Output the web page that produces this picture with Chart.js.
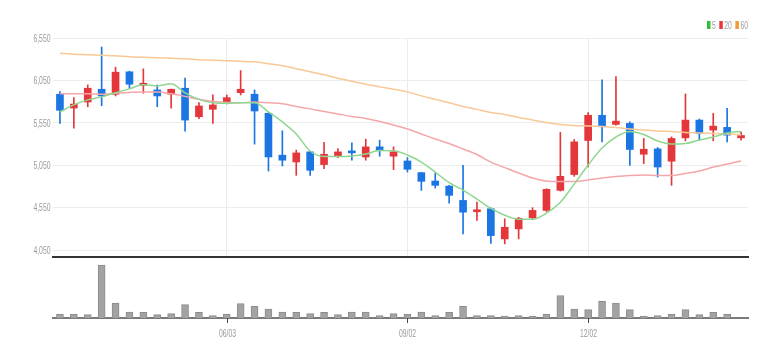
<!DOCTYPE html>
<html>
<head>
<meta charset="utf-8">
<script src="https://cdn.jsdelivr.net/npm/chart.js@4.4.1/dist/chart.umd.min.js"></script>
<style>
  html, body { margin: 0; padding: 0; background: #ffffff; }
  #wrap { position: relative; width: 782px; height: 358px; overflow: hidden; background: #fff; }
  #price { position: absolute; left: 0; top: 0; }
  #vol { position: absolute; left: 0; top: 258px; }
</style>
</head>
<body>
<div id="wrap">
  <canvas id="price" width="782" height="262"></canvas>
  <canvas id="vol" width="782" height="100"></canvas>
</div>
<script>
// ---- data (weekly candles) ----
const categories = ['03/11','03/18','03/25','04/01','04/08','04/15','04/22','04/29','05/06','05/13',
  '05/20','05/27','06/03','06/10','06/17','06/24','07/01','07/08','07/15','07/22',
  '07/29','08/05','08/12','08/19','08/26','09/02','09/09','09/16','09/23','09/30',
  '10/07','10/14','10/21','10/28','11/04','11/11','11/18','11/25','12/02','12/09',
  '12/16','12/23','12/30','01/06','01/13','01/20','01/27','02/03','02/10','02/17'];

const openP  = [5888,5726,5797,5947,5888,6152,5994,5939,5888,5959,
  5623,5711,5782,5907,5888,5664,5171,5091,5210,5061,
  5159,5221,5150,5269,5159,5103,4966,4867,4808,4639,
  4505,4541,4186,4304,4434,4521,4757,4943,5344,5640,
  5533,5545,5182,5245,5100,5375,5584,5466,5498,5375];
const highP  = [5919,5850,5998,6444,6207,6160,6187,5998,5950,6077,
  5789,5880,5880,6167,5939,5670,5458,5230,5215,5321,
  5250,5316,5360,5348,5269,5143,4970,4961,4816,5052,
  4619,4553,4422,4440,4553,4777,5439,5356,5671,6057,
  6096,5564,5368,5262,5387,5892,5596,5663,5723,5442];
const lowP   = [5545,5490,5741,5753,5868,5959,5900,5741,5723,5454,
  5600,5545,5773,5880,5301,4985,5044,4934,4934,5013,
  5143,5112,5112,5159,5001,4973,4757,4784,4607,4245,
  4402,4134,4127,4186,4411,4509,4749,4922,5032,5328,
  5525,5052,5072,4914,4816,5340,5348,5340,5328,5348];
const closeP = [5699,5773,5959,5868,6148,6006,6018,5868,5947,5584,
  5750,5762,5848,5947,5691,5150,5112,5198,4993,5182,
  5210,5198,5269,5230,5210,5005,4863,4816,4698,4500,
  4529,4225,4323,4429,4521,4769,4922,5328,5640,5505,
  5572,5238,5241,5032,5368,5584,5427,5513,5407,5403];

const ma5  = [5680,5763,5822,5857,5905,5952,5999,5987,6011,5905,
  5828,5787,5781,5787,5787,5680,5562,5421,5220,5155,
  5155,5161,5185,5226,5224,5173,5090,4972,4848,4760,
  4654,4544,4465,4418,4418,4489,4618,4831,5055,5256,
  5385,5450,5415,5338,5303,5309,5350,5385,5433,5450];
const ma20 = [5893,5893,5893,5887,5899,5910,5916,5916,5893,5863,
  5828,5804,5792,5787,5798,5787,5775,5745,5716,5686,
  5657,5627,5604,5568,5527,5480,5421,5362,5309,5244,
  5179,5090,5025,4961,4902,4866,4860,4860,4878,4902,
  4919,4931,4937,4931,4931,4955,4984,5031,5067,5102];
const ma60 = [6371,6359,6353,6347,6341,6329,6323,6318,6312,6306,
  6294,6288,6282,6276,6270,6247,6223,6188,6152,6117,
  6076,6040,6005,5975,5946,5916,5869,5828,5787,5745,
  5710,5674,5651,5615,5586,5556,5533,5521,5515,5509,
  5497,5480,5468,5456,5450,5438,5433,5427,5421,5409];

// volume (thousand shares)
const volume = [100,100,85,1325,375,150,140,85,110,335,
  140,60,100,360,290,225,150,140,110,140,
  85,150,150,60,110,100,150,60,140,290,
  60,60,45,60,45,100,560,225,210,415,
  375,210,45,60,100,210,85,140,100,0];

const priceTicks = [4050,4550,5050,5550,6050,6550];
const dateTicks = ['06/03','09/02','12/02'];
const maLabels = ['5','20','60'];

// ---- styles ----
const UP = '#e4373c', DOWN = '#1b76e4';
const maLineColors = ['#8fd78f','#f5a6aa','#f8c897'];
const maLegendColors = ['#2fbf3a','#e8383d','#f39a35'];
const labelFont = '11px "Liberation Sans", Arial, sans-serif';
const SQUASH = 0.62;

const candleColors = openP.map((o,i) => closeP[i] >= o ? UP : DOWN);

function squashText(ctx, text, x, y, align) {
  ctx.save();
  ctx.translate(x, y);
  ctx.scale(SQUASH, 1);
  ctx.textAlign = align;
  ctx.fillText(text, 0, 0);
  ctx.restore();
}

const priceDecor = {
  id: 'priceDecor',
  afterDraw(chart) {
    const ctx = chart.ctx, ys = chart.scales.y;
    ctx.save();
    ctx.font = labelFont;
    ctx.fillStyle = '#9a9a9a';
    ctx.textBaseline = 'middle';
    ys.ticks.forEach(t => {
      const y = ys.getPixelForValue(t.value);
      squashText(ctx, t.value.toLocaleString('en-US'), 50.5, y + 0.5, 'right');
    });
    // legend
    let x = 707;
    maLabels.forEach((lab, i) => {
      ctx.fillStyle = maLegendColors[i];
      ctx.fillRect(x, 21, 3.5, 8);
      ctx.fillStyle = '#9a9a9a';
      squashText(ctx, lab, x + 5, 25.5, 'left');
      x += 5 + ctx.measureText(lab).width * SQUASH + 3.5;
    });
    ctx.restore();
  }
};

const volDecor = {
  id: 'volDecor',
  afterDraw(chart) {
    const ctx = chart.ctx, xs = chart.scales.x, area = chart.chartArea;
    ctx.save();
    ctx.font = labelFont;
    ctx.textBaseline = 'middle';
    dateTicks.forEach(lab => {
      const i = categories.indexOf(lab);
      const x = Math.round(xs.getPixelForValue(i)) + 0.5;
      ctx.strokeStyle = '#444';
      ctx.lineWidth = 1;
      ctx.beginPath();
      ctx.moveTo(x, area.bottom);
      ctx.lineTo(x, area.bottom + 5);
      ctx.stroke();
      ctx.fillStyle = '#9a9a9a';
      squashText(ctx, lab, x, area.bottom + 15.5, 'center');
    });
    ctx.restore();
  }
};

const gridX = (c) => dateTicks.includes(categories[c.index]) ? '#ebebeb' : 'rgba(0,0,0,0)';

new Chart(document.getElementById('price'), {
  type: 'bar',
  data: {
    labels: categories,
    datasets: [
      { type: 'line', label: maLabels[0], data: ma5, borderColor: maLineColors[0], borderWidth: 1.5,
        pointRadius: 0, cubicInterpolationMode: 'monotone', fill: false, order: 0 },
      { type: 'line', label: maLabels[1], data: ma20, borderColor: maLineColors[1], borderWidth: 1.5,
        pointRadius: 0, cubicInterpolationMode: 'monotone', fill: false, order: 0 },
      { type: 'line', label: maLabels[2], data: ma60, borderColor: maLineColors[2], borderWidth: 1.5,
        pointRadius: 0, cubicInterpolationMode: 'monotone', fill: false, order: 0 },
      { label: 'body', data: openP.map((o,i) => [o, closeP[i]]), backgroundColor: candleColors,
        borderWidth: 0, barThickness: 7, minBarLength: 2, grouped: false, order: 1 },
      { label: 'wick', data: lowP.map((l,i) => [l, highP[i]]), backgroundColor: candleColors,
        borderWidth: 0, barThickness: 1, grouped: false, order: 2 }
    ]
  },
  options: {
    responsive: false,
    animation: false,
    layout: { padding: { left: 53, right: 34, top: 38, bottom: 5 } },
    plugins: { legend: { display: false }, tooltip: { enabled: false } },
    scales: {
      x: {
        offset: true,
        grid: { offset: false, color: gridX, drawTicks: false },
        border: { display: true, color: '#333', width: 2 },
        ticks: { display: false }
      },
      y: {
        min: 3973, max: 6550,
        afterBuildTicks: (s) => { s.ticks = priceTicks.map(v => ({ value: v })); },
        grid: { color: '#ededed', drawTicks: false },
        border: { display: false },
        ticks: { display: false }
      }
    }
  },
  plugins: [priceDecor]
});

new Chart(document.getElementById('vol'), {
  type: 'bar',
  data: {
    labels: categories,
    datasets: [
      { label: 'volume', data: volume, backgroundColor: '#a3a3a3', borderColor: '#8c8c8c',
        borderWidth: 1, barThickness: 7 }
    ]
  },
  options: {
    responsive: false,
    animation: false,
    layout: { padding: { left: 53, right: 34, top: 4, bottom: 32 } },
    plugins: { legend: { display: false }, tooltip: { enabled: false } },
    scales: {
      x: {
        offset: true,
        grid: { display: false },
        border: { display: true, color: '#7a7a7a', width: 2 },
        ticks: { display: false }
      },
      y: { display: false, min: 0, max: 1400 }
    }
  },
  plugins: [volDecor]
});
</script>
</body>
</html>
